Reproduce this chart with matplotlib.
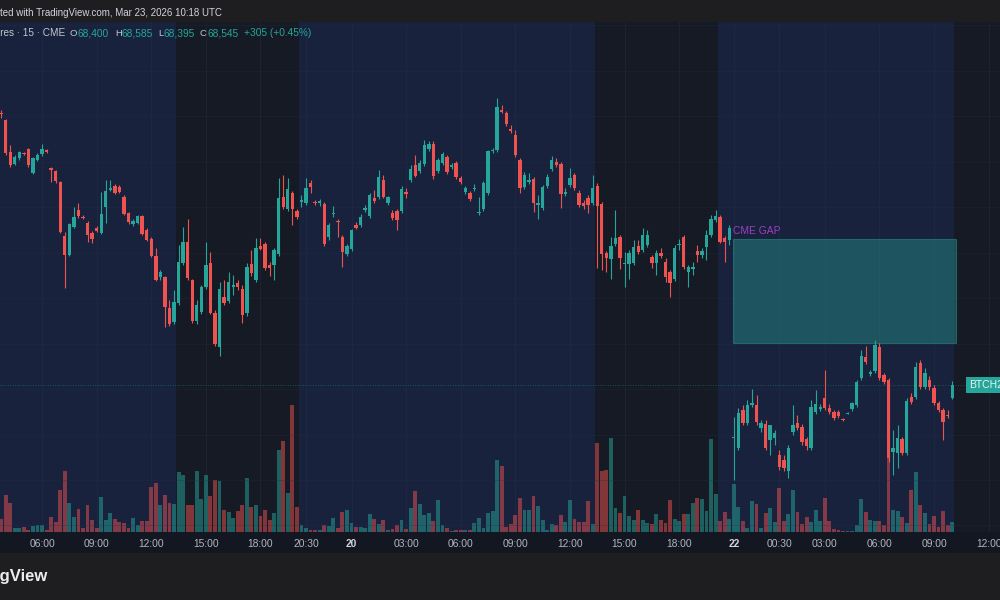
import numpy as np
import matplotlib.pyplot as plt
from matplotlib.patches import Rectangle
from matplotlib.transforms import blended_transform_factory

plt.rcParams['font.family'] = ['Liberation Sans', 'DejaVu Sans']

# BTC futures, 15 min bars (CME), bar index 0 = 19 Mar 03:45 UTC
opens = [
    71535, 71460, 71110, 70975, 71040, 71095, 71140, 70875, 71020, 71085,
    71130, 70930, 70900, 70780, 70185, 69975, 70285, 70470, 70395, 70325,
    70215, 70270, 70215, 70505, 70690, 70735, 70725, 70615, 70435, 70315,
    70325, 70405, 70250, 70150, 69965, 69735, 69735, 69390, 69240, 69445,
    69885, 70120, 69700, 69250, 69350, 69625, 69885, 69335, 68965, 69515,
    69470, 69625, 69665, 69600, 69335, 69875, 69700, 70075, 70095, 69865,
    69865, 69985, 70615, 70480, 70655, 70460, 70560, 70545, 70765, 70560,
    70545, 70535, 70175, 70425, 70350, 70175, 69985, 70040, 70305, 70305,
    70470, 70405, 70600, 70615, 70800, 70545, 70435, 70460, 70460, 70670,
    70800, 70965, 70900, 70975, 71140, 71195, 70900, 70985, 71055, 70945,
    70985, 70820, 70670, 70655, 70700, 70435, 70480, 70655, 71120, 71130,
    71570, 71535, 71360, 71295, 71020, 70725, 70780, 70810, 70525, 70490,
    70735, 70920, 71000, 70975, 70645, 70745, 70855, 70655, 70545, 70600,
    70545, 70735, 70535, 70000, 69930, 70095, 70175, 69875, 69875, 69885,
    70075, 70030, 70085, 69955, 69885, 70000, 69900, 69790, 69710, 70085,
    70175, 69790, 69820, 70020, 69975, 70065, 70195, 70360, 70395, 70160,
    70140, 67960, 67850, 68270, 68125, 68325, 68325, 68070, 68115, 67940,
    67960, 67775, 67720, 67600, 68030, 68125, 68085, 67950, 67850, 68250,
    68280, 68400, 68290, 68250, 68250, 68170, 68230, 68280, 68325, 68620,
    68855, 68665, 68700, 68965, 68655, 68600, 67810, 67795, 67950, 67795,
    68415, 68415, 68785, 68525, 68600, 68510, 68345, 68270, 68215, 68400,
]
highs = [
    71570, 71470, 71185, 71075, 71120, 71110, 71150, 71055, 71095, 71195,
    71140, 70945, 70910, 70790, 70230, 70325, 70505, 70545, 70415, 70350,
    70240, 70295, 70670, 70800, 70800, 70755, 70745, 70635, 70450, 70370,
    70415, 70415, 70270, 70175, 70050, 69810, 69745, 69480, 69590, 70085,
    70285, 70370, 69710, 69480, 69645, 70120, 70010, 69370, 69680, 69700,
    69790, 69755, 69700, 69645, 69885, 70030, 70160, 70160, 70120, 69900,
    70050, 70820, 70855, 70820, 70680, 70480, 70635, 70820, 70800, 70580,
    70590, 70560, 70325, 70515, 70370, 70195, 70095, 70260, 70340, 70425,
    70525, 70655, 70690, 70910, 70855, 70625, 70470, 70480, 70735, 70710,
    70965, 71075, 71020, 71240, 71230, 71230, 71040, 71110, 71075, 70985,
    71010, 70845, 70735, 70680, 70755, 70615, 70790, 71130, 71150, 71700,
    71625, 71560, 71405, 71350, 71040, 70890, 70875, 70835, 70635, 70745,
    70865, 71065, 71040, 71000, 70710, 70930, 70875, 70690, 70580, 70635,
    70855, 70765, 70560, 70020, 70175, 70470, 70195, 70010, 70030, 70140,
    70140, 70270, 70250, 69975, 70030, 70050, 69940, 69810, 70085, 70150,
    70195, 69865, 69900, 70085, 70050, 70250, 70415, 70470, 70415, 70185,
    70305, 68195, 68290, 68325, 68380, 68500, 68435, 68160, 68160, 68105,
    68050, 67830, 67775, 67885, 68325, 68215, 68115, 67975, 68380, 68490,
    68335, 68710, 68335, 68270, 68270, 68180, 68245, 68360, 68600, 68930,
    68975, 68710, 69040, 69005, 68675, 68620, 68050, 68105, 67975, 68400,
    68455, 68800, 68820, 68735, 68645, 68545, 68370, 68290, 68270, 68585,
]
lows = [
    71480, 71075, 70945, 70965, 71020, 71075, 70945, 70865, 71010, 71065,
    71095, 70780, 70765, 70215, 69610, 69965, 70270, 70380, 70370, 70120,
    70105, 70230, 70205, 70325, 70680, 70645, 70655, 70415, 70315, 70295,
    70315, 70195, 70130, 69955, 69690, 69700, 69185, 69195, 69215, 69425,
    69865, 69700, 69225, 69215, 69325, 69600, 69325, 68975, 68865, 69425,
    69445, 69535, 69590, 69225, 69305, 69745, 69680, 70030, 69810, 69745,
    69700, 69965, 70480, 70460, 70305, 70370, 70505, 70525, 70655, 70525,
    70515, 70075, 70140, 70395, 70175, 69845, 69965, 70020, 70260, 70285,
    70450, 70380, 70545, 70590, 70600, 70525, 70360, 70250, 70435, 70600,
    70780, 70835, 70875, 70955, 71120, 70810, 70875, 70965, 70865, 70920,
    70810, 70755, 70645, 70570, 70680, 70415, 70460, 70635, 71095, 71110,
    71535, 71395, 71315, 71055, 70655, 70700, 70755, 70450, 70370, 70470,
    70710, 70900, 70945, 70490, 70625, 70725, 70690, 70505, 70480, 70435,
    70525, 69830, 69810, 69790, 69710, 70075, 69820, 69625, 69710, 69865,
    69985, 70010, 70065, 69830, 69755, 69940, 69680, 69515, 69690, 70030,
    69820, 69625, 69755, 69900, 69940, 69920, 70175, 70340, 70105, 69900,
    70085, 67500, 67830, 68105, 68105, 68305, 68105, 68030, 67830, 67775,
    67885, 67610, 67600, 67520, 67995, 68050, 67885, 67830, 67830, 68225,
    68260, 68270, 68225, 68160, 68180, 68150, 68225, 68260, 68305, 68600,
    68775, 68645, 68675, 68600, 68555, 67700, 67555, 67630, 67775, 67775,
    68335, 68390, 68500, 68500, 68490, 68325, 68250, 67940, 68180, 68395,
]
closes = [
    71530, 71095, 70965, 71055, 71110, 71085, 70965, 71040, 71075, 71140,
    71110, 70910, 70790, 70230, 69975, 70315, 70395, 70405, 70380, 70195,
    70150, 70240, 70425, 70680, 70710, 70655, 70670, 70425, 70340, 70350,
    70405, 70205, 70140, 69965, 69700, 69790, 69405, 69215, 69460, 69900,
    70120, 69720, 69250, 69425, 69625, 69865, 69335, 68995, 69600, 69445,
    69680, 69645, 69625, 69315, 69845, 69775, 70050, 70040, 69830, 69830,
    70030, 70600, 70505, 70700, 70480, 70395, 70580, 70710, 70725, 70545,
    70570, 70095, 70305, 70435, 70340, 70010, 70075, 70250, 70270, 70395,
    70490, 70635, 70570, 70835, 70615, 70615, 70380, 70360, 70700, 70645,
    70920, 70845, 70985, 71185, 71195, 70845, 71020, 71085, 70890, 70965,
    70835, 70780, 70710, 70590, 70710, 70450, 70765, 71120, 71130, 71605,
    71550, 71415, 71340, 71075, 70710, 70855, 70800, 70545, 70545, 70725,
    70835, 71020, 70965, 70645, 70670, 70820, 70710, 70525, 70515, 70525,
    70710, 70515, 69985, 69940, 70075, 70160, 69940, 69885, 70000, 70065,
    70010, 70195, 70195, 69885, 70000, 69965, 69735, 69665, 70050, 70095,
    69845, 69845, 69845, 69975, 70020, 70195, 70370, 70405, 70120, 70120,
    70270, 67975, 68235, 68125, 68325, 68345, 68140, 68125, 67850, 68105,
    68015, 67645, 67630, 67850, 68105, 68070, 67920, 67875, 68305, 68335,
    68305, 68290, 68250, 68180, 68205, 68160, 68240, 68345, 68575, 68865,
    68800, 68690, 68985, 68620, 68575, 67740, 67850, 67960, 67795, 68370,
    68360, 68745, 68525, 68675, 68525, 68345, 68270, 68140, 68205, 68545,
]
volumes = [
    40, 110, 87, 12, 12, 15, 7, 17, 22, 22,
    5, 45, 30, 127, 182, 88, 45, 68, 12, 82,
    37, 12, 105, 37, 58, 40, 30, 27, 12, 43,
    20, 32, 32, 135, 147, 80, 110, 87, 83, 180,
    170, 80, 82, 182, 100, 170, 107, 157, 152, 67,
    60, 43, 62, 80, 163, 75, 80, 48, 67, 35,
    58, 247, 273, 117, 382, 75, 20, 12, 7, 7,
    7, 20, 17, 42, 13, 60, 65, 28, 15, 15,
    13, 55, 40, 25, 35, 7, 10, 20, 37, 10,
    72, 122, 85, 50, 58, 32, 95, 20, 13, 3,
    5, 7, 7, 7, 28, 43, 12, 58, 62, 217,
    197, 15, 25, 52, 103, 65, 65, 107, 77, 35,
    7, 25, 20, 50, 30, 97, 40, 30, 30, 92,
    25, 267, 183, 187, 282, 73, 58, 107, 47, 35,
    67, 35, 28, 23, 55, 37, 27, 95, 40, 32,
    55, 53, 87, 103, 100, 62, 280, 115, 32, 60,
    40, 143, 75, 32, 13, 93, 83, 13, 58, 73,
    30, 133, 32, 53, 127, 60, 25, 45, 30, 65,
    33, 103, 33, 10, 5, 3, 2, 2, 22, 100,
    60, 35, 32, 32, 20, 225, 67, 63, 45, 27,
    127, 180, 80, 57, 25, 47, 15, 63, 20, 30,
]

tick_pos = [9, 21, 33, 45, 57, 67, 77, 89, 101, 113, 125, 137, 149,
            161, 171, 181, 193, 205, 217]
tick_labels = ['06:00', '09:00', '12:00', '15:00', '18:00', '20:30', '20',
               '03:00', '06:00', '09:00', '12:00', '15:00', '18:00',
               '22', '00:30', '03:00', '06:00', '09:00', '12:00']

# extended-hours (blue) spans, in bar index
sessions = [(-1, 38.5), (65.5, 130.5), (157.5, 209.5)]

gap_low, gap_high = 69005, 70150
gap_span = (160.9, 209.9)
last_price = 68545

GREEN = '#26a69a'
RED = '#ef5350'
LABEL = '#c3c6ce'

o = np.array(opens)
h = np.array(highs)
l = np.array(lows)
c = np.array(closes)
x = np.arange(len(c))
up = c >= o
cols = np.where(up, GREEN, RED)

fig = plt.figure(figsize=(10, 6), dpi=100, facecolor='#131722')
fig.patches.append(Rectangle((0, 1 - 22 / 600), 1, 22 / 600, transform=fig.transFigure,
                             facecolor='#1e1e20', edgecolor='none', zorder=0))
fig.patches.append(Rectangle((0, 0), 1, 47 / 600, transform=fig.transFigure,
                             facecolor='#1e1e20', edgecolor='none', zorder=0))

vax = fig.add_axes([0, 68 / 600, 1, 510 / 600])
vax.set_facecolor('#161a25')
ax = vax.twinx()

for a, b in sessions:
    vax.axvspan(a, b, color='#18223c', lw=0, zorder=0)
for t in tick_pos:
    vax.axvline(t, color='#262e47', lw=0.6, alpha=0.5, zorder=0.5)

vax.bar(x, volumes, width=0.85, color=cols, alpha=0.5, zorder=1)
vax.set_ylim(0, 1530)
vax.set_yticks([])

for p in range(67000, 72600, 500):
    ax.axhline(p, color='#262e47', lw=0.6, alpha=0.35, zorder=0.5)

ax.add_patch(Rectangle((gap_span[0], gap_low), gap_span[1] - gap_span[0], gap_high - gap_low,
                       facecolor=GREEN, alpha=0.38, edgecolor='#2fb3a6', lw=0.8, zorder=1))
ax.text(gap_span[0], gap_high + 90, 'CME GAP', color='#9c3fc0', fontsize=7.4,
        va='center', ha='left', zorder=3)

ax.axhline(last_price, color=GREEN, lw=0.6, ls=(0, (1, 2)), alpha=0.5, zorder=1)

ax.vlines(x, l, h, colors=cols, lw=0.8, zorder=2)
body = np.maximum(np.abs(c - o), 10)
ax.bar(x, body, bottom=np.minimum(o, c), width=0.74, color=cols, lw=0, zorder=2)

ax.text(212.7, last_price, 'BTCH2026', color='#e6f4f2', fontsize=7.5, va='center', ha='left',
        clip_on=False, zorder=4,
        bbox=dict(boxstyle='square,pad=0.25', facecolor=GREEN, edgecolor='none'))

ax.set_ylim(66928, 72538)
ax.set_yticks([])
vax.set_xlim(-0.24, 219.5)

vax.set_xticks(tick_pos, tick_labels)
vax.tick_params(axis='x', length=0, pad=5, labelsize=7.4, labelcolor='#b2b5be')
for lab in vax.get_xticklabels():
    if lab.get_text() in ('20', '22'):
        lab.set_fontweight('bold')
        lab.set_color('#d1d4dc')
tr = blended_transform_factory(vax.transData, vax.transAxes)
vax.text(-3, -12 / 510, '03:00', transform=tr, ha='center', va='center', fontsize=7.4,
         color='#b2b5be', clip_on=False)

for a in (ax, vax):
    for s in a.spines.values():
        s.set_visible(False)

# header / footer text
fig.text(222 / 1000, 1 - 12.5 / 600, 'Created with TradingView.com, Mar 23, 2026 10:18 UTC',
         ha='right', va='center', fontsize=7.0, color='#d1d4dc')
fig.text(65 / 1000, 1 - 33 / 600, 'Bitcoin Futures · 15 · CME', ha='right', va='center',
         fontsize=7.2, color=LABEL)
ohlc = [('O', '68,400', 78), ('H', '68,585', 122), ('L', '68,395', 164), ('C', '68,545', 207)]
for key, val, px in ohlc:
    fig.text((px - 0.5) / 1000, 1 - 33 / 600, key, ha='right', va='center', fontsize=6.8,
             color=LABEL)
    fig.text(px / 1000, 1 - 33 / 600, val, ha='left', va='center', fontsize=7.3, color=GREEN)
fig.text(244 / 1000, 1 - 33 / 600, '+305 (+0.45%)', ha='left', va='center', fontsize=7.3,
         color=GREEN)
fig.text(48 / 1000, 1 - 577 / 600, 'TradingView', ha='right', va='center', fontsize=12,
         fontweight='bold', color='#ececec')

fig.savefig('out.png', dpi=100, facecolor=fig.get_facecolor())
